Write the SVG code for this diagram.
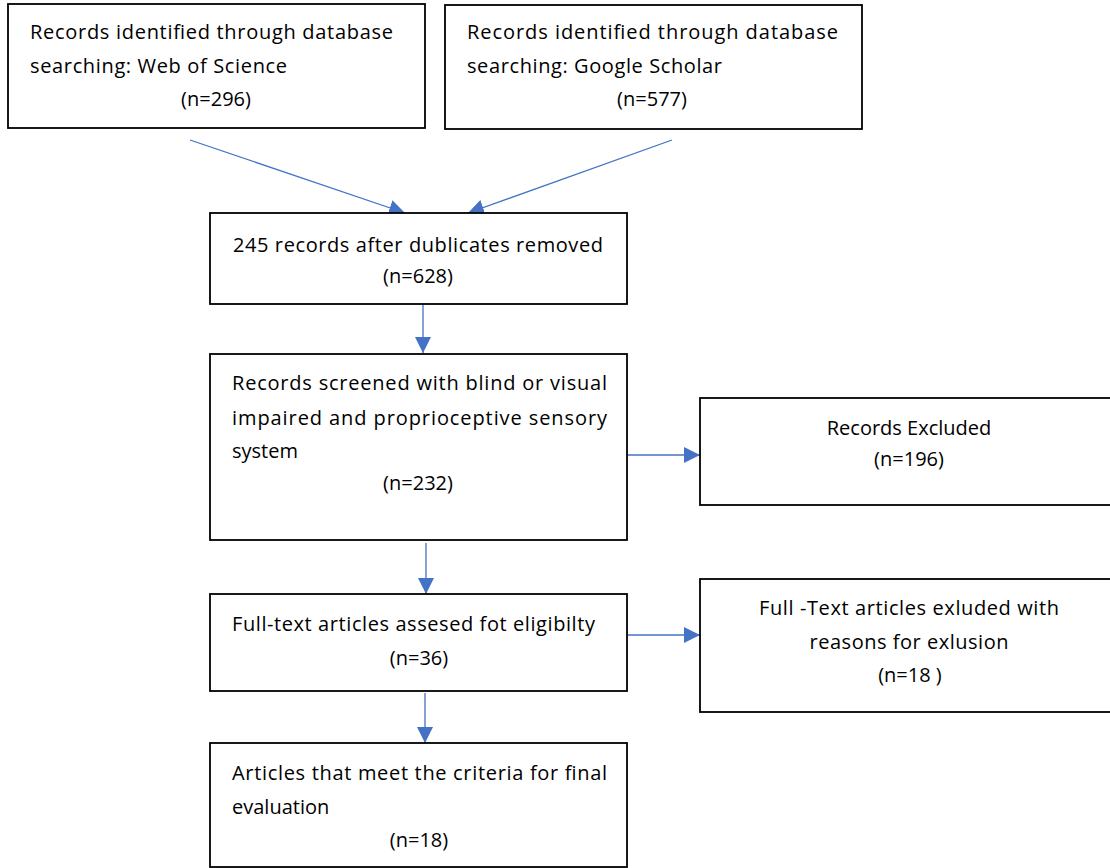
<svg xmlns="http://www.w3.org/2000/svg" width="1110" height="868" viewBox="0 0 1110 868">
<style>
.box{fill:#fff;stroke:#000;stroke-width:1.8}
.t{font-family:"Open Sans","Liberation Sans",sans-serif;font-size:20px;fill:#000}
.c{text-anchor:middle}
.con{stroke:#4472C4;stroke-width:1.3;fill:none;marker-end:url(#ah)}
</style>
<defs>
<marker id="ah" markerUnits="userSpaceOnUse" markerWidth="16" markerHeight="16" refX="15" refY="7.5" orient="auto" viewBox="0 0 15 15">
<path d="M0,0 L15,7.5 L0,15 z" fill="#4472C4"/>
</marker>
</defs>
<rect width="1110" height="868" fill="#fff"/>
<g id="connectors">
<line class="con" x1="190" y1="140" x2="405" y2="213"/>
<line class="con" x1="672" y1="140" x2="468" y2="213"/>
<line class="con" x1="423" y1="304" x2="423" y2="353"/>
<line class="con" x1="426" y1="543" x2="426" y2="594"/>
<line class="con" x1="425" y1="693" x2="425" y2="743"/>
<line class="con" x1="627" y1="455" x2="700" y2="455"/>
<line class="con" x1="627" y1="635" x2="700" y2="635"/>
</g>
<g id="wos">
<rect class="box" x="8" y="4" width="417" height="124"/>
<text class="t" x="30" y="39" textLength="363" lengthAdjust="spacing">Records identified through database</text>
<text class="t" x="30" y="73" textLength="257" lengthAdjust="spacing">searching: Web of Science</text>
<text class="t c" x="216" y="106">(n=296)</text>
</g>
<g id="gs">
<rect class="box" x="445" y="5" width="417" height="124"/>
<text class="t" x="467" y="39" textLength="371" lengthAdjust="spacing">Records identified through database</text>
<text class="t" x="467" y="73" textLength="255" lengthAdjust="spacing">searching: Google Scholar</text>
<text class="t c" x="652" y="106">(n=577)</text>
</g>
<g id="dedup">
<rect class="box" x="210" y="213" width="417" height="91"/>
<text class="t" x="233" y="252" textLength="370" lengthAdjust="spacing">245 records after dublicates removed</text>
<text class="t c" x="418" y="283">(n=628)</text>
</g>
<g id="screened">
<rect class="box" x="210" y="354" width="417" height="186"/>
<text class="t" x="232" y="390" textLength="375" lengthAdjust="spacing">Records screened with blind or visual</text>
<text class="t" x="232" y="425" textLength="375" lengthAdjust="spacing">impaired and proprioceptive sensory</text>
<text class="t" x="232" y="458">system</text>
<text class="t c" x="418" y="490">(n=232)</text>
</g>
<g id="excluded">
<rect class="box" x="700" y="398" width="420" height="107"/>
<text class="t c" x="909" y="435">Records Excluded</text>
<text class="t c" x="909" y="466">(n=196)</text>
</g>
<g id="fulltext">
<rect class="box" x="210" y="594" width="417" height="97"/>
<text class="t" x="232" y="631" textLength="363" lengthAdjust="spacing">Full-text articles assesed fot eligibilty</text>
<text class="t c" x="419" y="665">(n=36)</text>
</g>
<g id="ftexcluded">
<rect class="box" x="700" y="579" width="420" height="133"/>
<text class="t c" x="909" y="615" textLength="300" lengthAdjust="spacing">Full -Text articles exluded with</text>
<text class="t c" x="909" y="649" textLength="199" lengthAdjust="spacing">reasons for exlusion</text>
<text class="t c" x="910" y="682">(n=18 )</text>
</g>
<g id="final">
<rect class="box" x="210" y="743" width="417" height="124"/>
<text class="t" x="232" y="780" textLength="375" lengthAdjust="spacing">Articles that meet the criteria for final</text>
<text class="t" x="232" y="814">evaluation</text>
<text class="t c" x="419" y="847">(n=18)</text>
</g>
</svg>
